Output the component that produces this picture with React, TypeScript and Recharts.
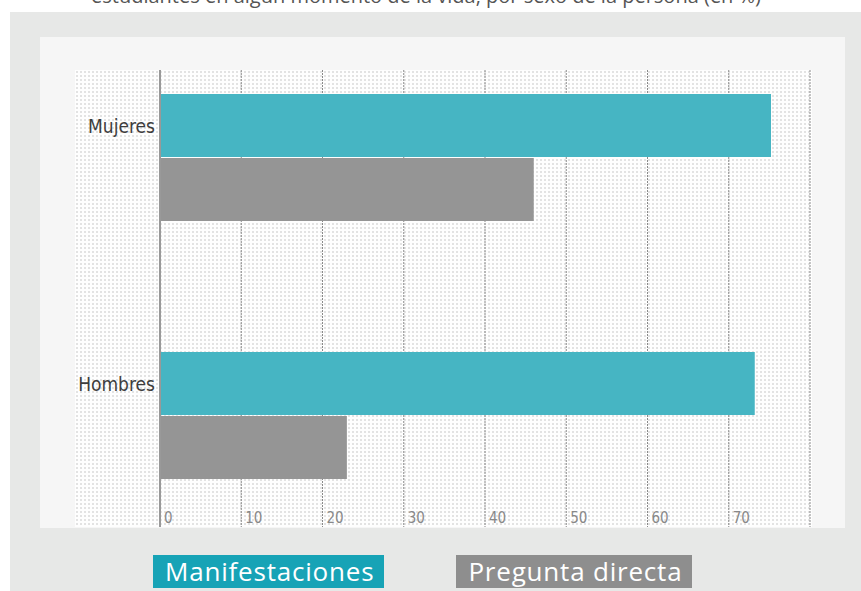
import {
  BarChart,
  Bar,
  XAxis,
  YAxis,
  CartesianGrid,
  ReferenceLine,
  Legend,
} from "recharts";

const CATEGORIES = ["Mujeres", "Hombres"];
const MANIFESTACIONES = [75.2, 73.2];
const PREGUNTA_DIRECTA = [46.0, 23.0];
const X_TICKS = [0, 10, 20, 30, 40, 50, 60, 70];
const SERIES_NAMES = ["Manifestaciones", "Pregunta directa"];

const BAR_COLORS = ["#46b5c3", "#959595"];
const LEGEND_COLORS = ["#17a3b6", "#8e8e8e"];
const CONDENSED = '"Liberation Sans Narrow", "DejaVu Sans Condensed", "Roboto", sans-serif';

const data = CATEGORIES.map((sexo, i) => ({
  sexo,
  manifestaciones: MANIFESTACIONES[i],
  pregunta: PREGUNTA_DIRECTA[i],
}));

function XTick({ x, y, payload }: any) {
  return (
    <text x={x + 4} y={y - 4} fill="#888" fontSize={15} fontFamily={CONDENSED} textAnchor="start">
      {payload.value}
    </text>
  );
}

function YTick({ x, y, payload }: any) {
  return (
    <text x={x - 5} y={y - 24} fill="#3d3d3d" fontSize={19} fontFamily={CONDENSED} textAnchor="end">
      {payload.value}
    </text>
  );
}

function LegendBoxes({ payload }: any) {
  return (
    <div style={{ display: "flex", gap: 72 }}>
      {(payload || []).map((p: any, i: number) => (
        <div
          key={i}
          style={{
            background: LEGEND_COLORS[i],
            color: "#fff",
            fontFamily: '"Open Sans", sans-serif',
            fontSize: 26,
            letterSpacing: 0.8,
            lineHeight: "33px",
            height: 33,
            padding: "0 10px 0 12px",
            whiteSpace: "nowrap",
          }}
        >
          {p.value}
        </div>
      ))}
    </div>
  );
}

export default function App() {
  return (
    <div
      style={{
        position: "fixed",
        left: 0,
        top: 0,
        width: 861,
        height: 591,
        background: "#fff",
        overflow: "hidden",
      }}
    >
      <div
        style={{
          position: "absolute",
          right: 100,
          top: -18,
          whiteSpace: "nowrap",
          fontFamily: '"Open Sans", sans-serif',
          fontSize: 20,
          color: "#555",
        }}
      >
        estudiantes en algún momento de la vida, por sexo de la persona (en %)
      </div>
      <div style={{ position: "absolute", left: 10, top: 12, width: 851, height: 579, background: "#e7e8e7" }} />
      <div style={{ position: "absolute", left: 40, top: 37, width: 805, height: 491, background: "#f6f6f6" }} />
      <div
        style={{
          position: "absolute",
          left: 75,
          top: 70,
          width: 737,
          height: 457,
          backgroundColor: "#fefefe",
          backgroundImage: "radial-gradient(#e2e2e2 0.7px, transparent 0.9px)",
          backgroundSize: "4px 4px",
        }}
      />
      <div style={{ position: "absolute", left: 0, top: 0 }}>
        <BarChart
          width={861}
          height={591}
          data={data}
          layout="vertical"
          margin={{ top: 70, right: 51, bottom: 44, left: 60 }}
          barSize={63}
          barGap={1}
        >
          <CartesianGrid horizontal={false} stroke="#8a8a8a" strokeDasharray="2 1" />
          <XAxis
            type="number"
            domain={[0, 80]}
            ticks={X_TICKS}
            height={20}
            axisLine={false}
            tickLine={false}
            tickSize={0}
            tickMargin={0}
            tick={<XTick />}
            interval={0}
          />
          <YAxis
            type="category"
            dataKey="sexo"
            width={100}
            axisLine={false}
            tickLine={false}
            tickSize={0}
            tickMargin={0}
            tick={<YTick />}
            padding={{ top: -42, bottom: -17 }}
          />
          <ReferenceLine x={0} stroke="#999" strokeWidth={2} />
          <Bar dataKey="manifestaciones" name={SERIES_NAMES[0]} fill={BAR_COLORS[0]} isAnimationActive={false} />
          <Bar dataKey="pregunta" name={SERIES_NAMES[1]} fill={BAR_COLORS[1]} isAnimationActive={false} />
          <Legend
            content={<LegendBoxes />}
            layout="horizontal"
            verticalAlign="middle"
            align="center"
            wrapperStyle={{ position: "absolute", left: 153, top: 555, width: "auto" }}
          />
        </BarChart>
      </div>
    </div>
  );
}
